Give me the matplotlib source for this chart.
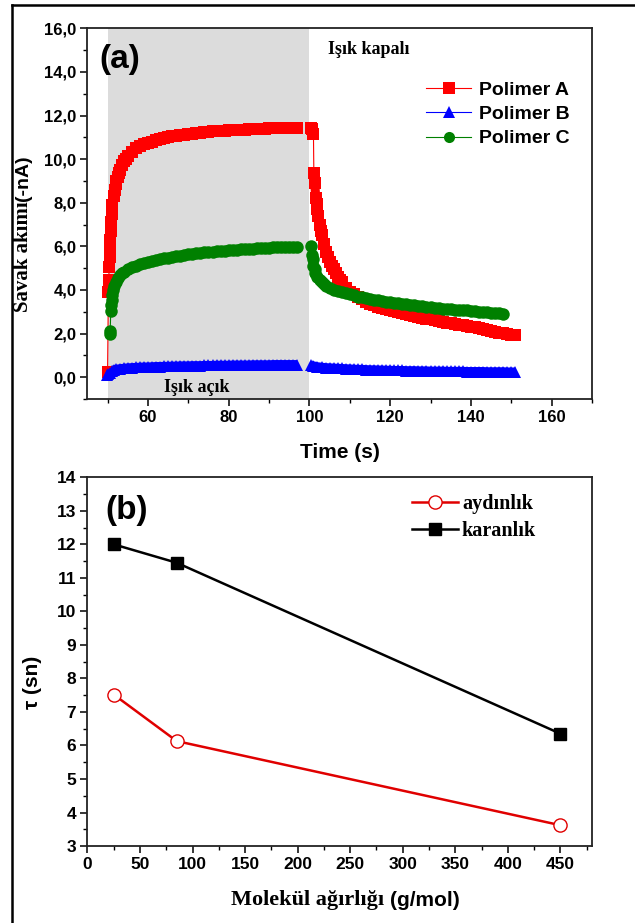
import matplotlib
matplotlib.use("Agg")
import matplotlib.pyplot as plt
from matplotlib.lines import Line2D
from matplotlib.ticker import MultipleLocator, FuncFormatter

SANS = "Liberation Sans"
SERIF = "Liberation Serif"

# ---- panel (a) data: light on (50-97 s) and light off (100-151 s)
tA_on = [50.0, 50.2, 50.3, 50.4, 50.5, 50.6, 50.7, 50.8, 50.9, 51.0, 51.2, 51.5, 51.8, 52,
         52.2, 52.5, 52.8, 53, 53.5, 54, 54.5, 55, 56, 57, 58, 59, 60, 61, 62, 63, 64, 65,
         66, 67, 68, 69, 70, 71, 72, 73, 74, 75, 76, 77, 78, 79, 80, 81, 82, 83, 84, 85, 86,
         87, 88, 89, 90, 91, 92, 93, 94, 95, 96, 97]
yA_on = [0.25, 3.9, 4.45, 5.05, 5.5, 5.9, 6.3, 6.7, 7.1, 7.5, 7.9, 8.3, 8.6, 8.85,
         9.0, 9.2, 9.38, 9.5, 9.72, 9.9, 10.03, 10.15, 10.35, 10.5, 10.6, 10.68, 10.75,
         10.81, 10.86, 10.91, 10.96, 11.0, 11.04, 11.07, 11.1, 11.13, 11.15, 11.17, 11.19,
         11.21, 11.23, 11.25, 11.27, 11.28, 11.3, 11.31, 11.32, 11.33, 11.34, 11.35, 11.36,
         11.37, 11.38, 11.39, 11.4, 11.4, 11.41, 11.42, 11.42, 11.43, 11.43, 11.44, 11.44,
         11.45]
tA_off = [100.5, 100.7, 101.0, 101.1, 101.3, 101.6, 101.8, 102, 102.2, 102.5, 102.8, 103,
          103.5, 104, 104.5, 105, 105.5, 106, 106.5, 107, 107.5, 108, 109, 110, 111, 112,
          113, 114, 115, 116, 117, 118, 119, 120, 121, 122, 123, 124, 125, 126, 127, 128,
          129, 130, 131, 132, 133, 134, 135, 136, 137, 138, 139, 140, 141, 142, 143, 144,
          145, 146, 147, 148, 149, 150, 151]
yA_off = [11.45, 11.4, 11.15, 9.35, 8.9, 8.2, 7.95, 7.7, 7.4, 7.0, 6.7, 6.5, 6.1, 5.75,
          5.5, 5.3, 5.12, 4.95, 4.77, 4.6, 4.47, 4.35, 4.1, 3.92, 3.8, 3.68, 3.57, 3.47,
          3.38, 3.3, 3.24, 3.18, 3.13, 3.08, 3.03, 2.98, 2.94, 2.89, 2.85, 2.81, 2.77, 2.73,
          2.69, 2.65, 2.61, 2.57, 2.54, 2.5, 2.47, 2.44, 2.41, 2.38, 2.35, 2.32, 2.28, 2.24,
          2.2, 2.16, 2.12, 2.09, 2.05, 2.02, 1.98, 1.95, 1.93]

tB_on = [49.8, 50.2, 50.5, 51, 51.5, 52, 53, 54, 55, 56, 57, 58, 59, 60, 61, 62, 63, 64,
         65, 66, 67, 68, 69, 70, 71, 72, 73, 74, 75, 76, 77, 78, 79, 80, 81, 82, 83, 84, 85,
         86, 87, 88, 89, 90, 91, 92, 93, 94, 95, 96, 97]
yB_on = [0.08, 0.14, 0.2, 0.28, 0.33, 0.36, 0.39, 0.41, 0.43, 0.44, 0.45, 0.46, 0.47,
         0.47, 0.48, 0.49, 0.49, 0.5, 0.5, 0.51, 0.51, 0.52, 0.52, 0.52, 0.53, 0.53, 0.53,
         0.54, 0.54, 0.54, 0.55, 0.55, 0.55, 0.55, 0.56, 0.56, 0.56, 0.56, 0.56, 0.57, 0.57,
         0.57, 0.57, 0.57, 0.58, 0.58, 0.58, 0.58, 0.58, 0.58, 0.58]
tB_off = [100.4, 101, 102, 103, 104, 105, 106, 107, 108, 109, 110, 111, 112, 113, 114, 115,
          116, 117, 118, 119, 120, 121, 122, 123, 124, 125, 126, 127, 128, 129, 130, 131, 132,
          133, 134, 135, 136, 137, 138, 139, 140, 141, 142, 143, 144, 145, 146, 147, 148, 149,
          150, 151]
yB_off = [0.56, 0.52, 0.48, 0.46, 0.44, 0.43, 0.42, 0.41, 0.4, 0.39, 0.38, 0.37, 0.36,
          0.36, 0.35, 0.34, 0.34, 0.33, 0.33, 0.32, 0.32, 0.31, 0.31, 0.31, 0.3, 0.3, 0.3,
          0.29, 0.29, 0.29, 0.28, 0.28, 0.28, 0.28, 0.27, 0.27, 0.27, 0.27, 0.27, 0.26, 0.26,
          0.26, 0.26, 0.26, 0.25, 0.25, 0.25, 0.25, 0.25, 0.24, 0.24, 0.24]

tC_on = [50.6, 50.65, 50.8, 50.9, 51.0, 51.1, 51.3, 51.6, 52, 52.5, 53, 53.5, 54, 55, 56,
         57, 58, 59, 60, 61, 62, 63, 64, 65, 66, 67, 68, 69, 70, 71, 72, 73, 74, 75, 76, 77,
         78, 79, 80, 81, 82, 83, 84, 85, 86, 87, 88, 89, 90, 91, 92, 93, 94, 95, 96, 97]
yC_on = [2.0, 2.12, 3.05, 3.3, 3.55, 3.75, 3.98, 4.18, 4.38, 4.55, 4.67, 4.76, 4.83, 4.95,
         5.04, 5.12, 5.18, 5.24, 5.29, 5.34, 5.38, 5.42, 5.46, 5.49, 5.52, 5.55, 5.58, 5.61,
         5.63, 5.65, 5.68, 5.7, 5.72, 5.74, 5.76, 5.78, 5.79, 5.81, 5.82, 5.84, 5.85, 5.87,
         5.88, 5.89, 5.9, 5.91, 5.92, 5.93, 5.94, 5.95, 5.96, 5.96, 5.97, 5.98, 5.98, 5.99]
tC_off = [100.3, 100.6, 100.8, 101, 101.3, 101.5, 102, 102.5, 103, 103.5, 104, 105, 106,
          107, 108, 109, 110, 111, 112, 113, 114, 115, 116, 117, 118, 119, 120, 121, 122,
          123, 124, 125, 126, 127, 128, 129, 130, 131, 132, 133, 134, 135, 136, 137, 138,
          139, 140, 141, 142, 143, 144, 145, 146, 147, 148]
yC_off = [6.0, 5.6, 5.4, 5.1, 4.95, 4.8, 4.6, 4.47, 4.35, 4.27, 4.2, 4.1, 4.02, 3.96, 3.9,
          3.86, 3.82, 3.76, 3.7, 3.66, 3.62, 3.59, 3.56, 3.53, 3.5, 3.47, 3.45, 3.42, 3.39,
          3.37, 3.34, 3.32, 3.3, 3.27, 3.25, 3.23, 3.21, 3.19, 3.17, 3.15, 3.14, 3.12, 3.1,
          3.09, 3.07, 3.06, 3.04, 3.02, 3.01, 2.99, 2.98, 2.96, 2.95, 2.93, 2.92]

# ---- panel (b) data
mw = [25, 85, 450]
tau_light = [7.52, 6.13, 3.62]
tau_dark = [12.0, 11.45, 6.35]

fig = plt.figure(figsize=(6.35, 9.23), dpi=100)
axA = fig.add_axes([0.1376, 0.5677, 0.7947, 0.4016])
axB = fig.add_axes([0.1376, 0.0834, 0.7947, 0.3995])

# outer frame lines (left and top)
fig.add_artist(Line2D([0.019, 0.019], [0.0, 0.9946], color="black", lw=1.8,
                      transform=fig.transFigure))
fig.add_artist(Line2D([0.019, 1.0], [0.9946, 0.9946], color="black", lw=1.8,
                      transform=fig.transFigure))

# panel (a)
axA.axvspan(50, 100, color="#dcdcdc", lw=0, zorder=0)
# (name, on-data, off-data, colour, marker, size, first index of dense part on/off)
series = [
    ("Polimer A", tA_on, yA_on, tA_off, yA_off, "#ff0000", "s", 8.5, 4, 3),
    ("Polimer B", tB_on, yB_on, tB_off, yB_off, "#0000ff", "^", 9, 0, 0),
    ("Polimer C", tC_on, yC_on, tC_off, yC_off, "#008000", "o", 9, 2, 1),
]
for name, t1, y1, t2, y2, col, mk, ms, k1, k2 in series:
    # dense acquisition: markers merge into a solid band
    axA.plot(t1[k1:], y1[k1:], color=col, lw=6.5, solid_capstyle="butt", zorder=2)
    axA.plot(t2[k2:], y2[k2:], color=col, lw=6.5, solid_capstyle="butt", zorder=2)
    axA.plot(t1, y1, color=col, marker=mk, ms=ms, lw=0.8, mew=0, zorder=3)
    axA.plot(t2, y2, color=col, marker=mk, ms=ms, lw=0.8, mew=0, zorder=3)
    axA.plot([], [], color=col, marker=mk, ms=8, lw=0.8, mew=0, label=name)

axA.set_xlim(45, 170)
axA.set_ylim(-1, 16)
axA.xaxis.set_minor_locator(MultipleLocator(10))
axA.yaxis.set_major_locator(MultipleLocator(2))
axA.yaxis.set_minor_locator(MultipleLocator(1))
axA.yaxis.set_major_formatter(FuncFormatter(lambda v, p: f"{v:.1f}".replace(".", ",")))
axA.set_xticks([60, 80, 100, 120, 140, 160])

axA.legend(loc="upper right", bbox_to_anchor=(0.99, 0.905), frameon=False,
           handlelength=2.3, handletextpad=0.4, labelspacing=0.35,
           prop={"family": SANS, "weight": "bold", "size": 14})

axA.text(48.0, 14.55, "(a)", fontsize=24, fontweight="bold", family=SANS,
         ha="left", va="center")
axA.text(104.5, 15.05, "Işık kapalı", fontsize=13, fontweight="bold", family=SERIF,
         ha="left", va="center")
axA.text(72, -0.45, "Işık açık", fontsize=13, fontweight="bold", family=SERIF,
         ha="center", va="center")

# panel (b)
axB.plot(mw, tau_light, color="#e00000", lw=1.8, marker="o", ms=9.5, mfc="white",
         mec="#e00000", mew=1.0, label="aydınlık")
axB.plot(mw, tau_dark, color="black", lw=1.8, marker="s", ms=9, label="karanlık")
axB.set_xlim(0, 480)
axB.set_ylim(3, 14)
axB.xaxis.set_minor_locator(MultipleLocator(25))
axB.yaxis.set_major_locator(MultipleLocator(1))
axB.yaxis.set_minor_locator(MultipleLocator(0.5))
axB.set_xticks(range(0, 451, 50))
axB.legend(loc="upper right", bbox_to_anchor=(0.925, 1.003), frameon=False,
           handlelength=2.3, handletextpad=0.2, labelspacing=0.35,
           prop={"family": SERIF, "weight": "bold", "size": 14.5})
axB.text(37, 13.0, "(b)", fontsize=24, fontweight="bold", family=SANS,
         ha="center", va="center")

for ax, fs in ((axA, 12), (axB, 12.5)):
    for sp in ax.spines.values():
        sp.set_linewidth(1.3)
        sp.set_color("#222222")
    ax.tick_params(which="major", direction="out", length=5, width=1.1,
                   top=False, right=False, pad=3)
    ax.tick_params(which="minor", direction="out", length=3, width=1.0,
                   top=False, right=False)
    for lab in ax.get_xticklabels() + ax.get_yticklabels():
        lab.set_fontfamily(SANS)
        lab.set_fontweight("bold")
        lab.set_fontsize(fs)

# axis titles
fig.text(340 / 635, 1 - 452 / 923, "Time (s)", family=SANS, fontweight="bold",
         fontsize=15, ha="center", va="center")
fig.text(32 / 635, 1 - 682 / 923, "τ (sn)", family=SANS, fontweight="bold",
         fontsize=15, ha="center", va="center", rotation=90)

fig.canvas.draw()
rend = fig.canvas.get_renderer()

# x label of (b): serif words followed by sans unit
m1 = fig.text(231 / 635, 1 - 900 / 923, "Molekül ağırlığı ", family=SERIF,
              fontweight="bold", fontsize=16, ha="left", va="center")
fig.canvas.draw()
bx = m1.get_window_extent(rend)
fig.text(bx.x1 / fig.bbox.width, 1 - 900 / 923, "(g/mol)", family=SANS,
         fontweight="bold", fontsize=15, ha="left", va="center")

# y label of (a): serif words followed by sans unit
t1 = fig.text(23.5 / 635, 1 - 312 / 923, "Savak akımı", family=SERIF, fontweight="bold",
              fontsize=15, ha="center", va="bottom", rotation=90)
fig.canvas.draw()
bb = t1.get_window_extent(rend)
fig.text(23.5 / 635, bb.y1 / fig.bbox.height, "(-nA)", family=SANS, fontweight="bold",
         fontsize=14, ha="center", va="bottom", rotation=90)

fig.savefig("out.png", dpi=100)
